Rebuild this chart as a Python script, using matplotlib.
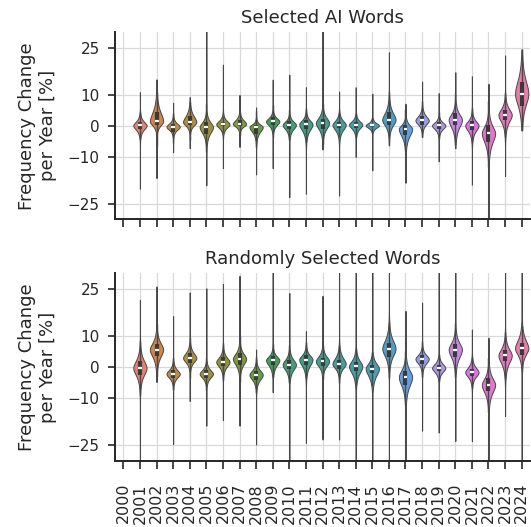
import numpy as np
import matplotlib
matplotlib.use("Agg")
import matplotlib.pyplot as plt
import seaborn as sns

years = [str(y) for y in range(2000, 2025)]
yticks = [-25, -10, 0, 10, 25]

# ---- Selected AI Words (year 2000 has no data) ----
ai_med  = [None, 0.1, 1.4, -0.3, 1.2, -0.4, 0.5, 0.6, -0.4, 1.4, 0.3, 0.5, 0.9, 0.3, 0.4, 0.1, 1.9, -1.0, 1.7, 0.1, 1.9, 0.1, -2.4, 3.5, 10.3]
ai_q1   = [None, -1.0, 0.1, -1.9, 0.1, -2.6, -0.2, -0.1, -2.6, 0.3, -1.0, -1.0, -1.0, -0.7, -0.7, -0.5, 0.1, -3.1, 0.3, -1.0, 0.1, -1.2, -5.2, 1.7, 6.5]
ai_q3   = [None, 1.2, 4.4, 0.5, 3.3, 1.2, 1.2, 1.7, 0.3, 2.8, 1.4, 1.7, 2.2, 1.2, 1.2, 0.7, 4.4, 0.3, 3.3, 1.2, 4.2, 1.5, 0.1, 5.2, 14.0]
ai_btop = [None, 3.5, 9.5, 2.5, 6.5, 3.9, 3.5, 3.9, 1.9, 4.4, 3.3, 3.9, 5.5, 3.9, 3.3, 2.2, 8.1, 2.5, 5.5, 2.8, 7.1, 3.9, 3.9, 8.7, 22.0]
ai_bbot = [None, -3.6, -2.2, -3.1, -2.0, -5.8, -2.6, -1.8, -4.7, -2.0, -3.6, -4.7, -4.2, -4.2, -3.1, -2.0, -3.1, -7.4, -1.8, -3.1, -4.7, -4.7, -10.6, -2.6, 0.1]
ai_lo   = [None, -20.2, -16.8, -8.5, -7.2, -19.1, -13.6, -6.8, -15.6, -13.6, -22.9, -21.8, -7.6, -22.4, -10.0, -14.3, -6.3, -18.3, -3.6, -11.4, -7.2, -18.9, -32.0, -16.1, -1.5]
ai_hi   = [None, 10.8, 14.9, 7.4, 9.2, 32.0, 19.6, 9.9, 5.9, 14.8, 16.4, 12.4, 32.0, 11.0, 12.4, 10.3, 23.6, 7.1, 14.2, 10.5, 17.2, 15.9, 13.5, 22.6, 24.5]

# ---- Randomly Selected Words ----
rn_med  = [None, -0.3, 5.6, -2.2, 2.9, -2.2, 1.6, 2.6, -2.5, 2.2, 0.8, 2.4, 1.8, 1.0, 0.2, -0.5, 5.9, -3.2, 2.6, -0.3, 5.6, -1.7, -5.7, 3.7, 6.0]
rn_q1   = [None, -2.5, 3.4, -3.5, 1.3, -3.5, 0.2, 0.8, -4.1, 0.8, -0.6, 0.8, 0.2, -0.6, -1.4, -1.9, 3.2, -5.7, 1.1, -1.4, 3.2, -3.0, -7.8, 1.8, 4.0]
rn_q3   = [None, 1.8, 7.5, -0.9, 4.5, -0.9, 3.2, 4.5, -1.2, 3.4, 2.4, 3.7, 2.9, 2.4, 1.5, 0.8, 7.7, -1.4, 4.0, 0.8, 7.5, -0.6, -3.5, 5.6, 7.7]
rn_btop = [None, 6.1, 11.5, 1.3, 7.2, 1.3, 5.6, 7.2, 1.3, 5.6, 5.1, 6.1, 6.1, 6.1, 5.1, 4.0, 13.1, 2.9, 6.1, 3.2, 11.5, 2.4, 0.2, 9.4, 13.1]
rn_bbot = [None, -6.8, -0.9, -5.7, -0.9, -5.7, -2.5, -2.5, -6.8, -2.5, -4.1, -3.0, -2.5, -3.0, -5.7, -6.8, -0.9, -11.1, -1.4, -3.9, -1.4, -5.7, -12.7, -3.0, 0.2]
rn_lo   = [None, -32.0, -4.8, -24.7, -10.9, -18.8, -17.0, -18.8, -24.8, -8.1, -32.0, -24.3, -23.2, -23.2, -32.0, -32.0, -32.0, -32.0, -20.4, -21.0, -23.7, -23.7, -32.0, -15.7, -32.0]
rn_hi   = [None, 21.5, 25.8, 16.3, 23.9, 25.2, 26.6, 29.2, 5.6, 32.0, 23.7, 11.5, 22.8, 32.0, 32.0, 32.0, 32.0, 18.0, 20.6, 32.0, 32.0, 12.0, 9.4, 32.0, 32.0]

titles = ["Selected AI Words", "Randomly Selected Words"]
ylabel = "Frequency Change\nper Year [%]"

palette = [sns.desaturate(c, 0.75) for c in sns.color_palette("husl", len(years))]
EDGE = "#474747"
GRID = "#d9d9d9"
SPINE = "#262626"


def draw_violin(ax, pos, color, med, q1, q3, btop, bbot, lo, hi):
    b_up = max((btop - med) / 3.0, 0.3)
    b_dn = max((med - bbot) / 3.0, 0.3)
    y = np.linspace(lo, hi, 1500)
    z = np.where(y >= med, (y - med) / b_up, (med - y) / b_dn)
    g = 1.0 / np.cosh(z)
    w = 0.4 * np.maximum(g, 0.006)
    ax.fill_betweenx(y, pos - w, pos + w, facecolor=color, edgecolor=EDGE,
                     linewidth=0.7, zorder=2)
    iqr = q3 - q1
    wlo = max(lo, q1 - 1.5 * iqr)
    whi = min(hi, q3 + 1.5 * iqr)
    ax.plot([pos, pos], [wlo, whi], color=EDGE, lw=1.0, zorder=3,
            solid_capstyle="butt")
    ax.plot([pos, pos], [q1, q3], color="#3a3a3a", lw=3.0, zorder=3,
            solid_capstyle="butt")
    ax.plot([pos - 0.12, pos + 0.12], [med, med], color="white", lw=1.6,
            zorder=4, solid_capstyle="butt")


fig = plt.figure(figsize=(5.31, 5.27), dpi=100)
rects = [[0.2166, 0.5839, 0.7815, 0.3548], [0.2166, 0.1258, 0.7815, 0.3556]]
panels = [
    (ai_med, ai_q1, ai_q3, ai_btop, ai_bbot, ai_lo, ai_hi),
    (rn_med, rn_q1, rn_q3, rn_btop, rn_bbot, rn_lo, rn_hi),
]

for k, (rect, data) in enumerate(zip(rects, panels)):
    ax = fig.add_axes(rect)
    ax.set_axisbelow(True)
    x = np.arange(len(years))
    for i in range(len(years)):
        vals = [d[i] for d in data]
        if vals[0] is None:
            continue
        draw_violin(ax, x[i], palette[i], *vals)
    ax.set_xlim(-0.5, len(years) - 0.5)
    ax.set_ylim(-30, 30)
    ax.set_yticks(yticks)
    ax.set_yticklabels([str(t).replace("-", "\u2212") for t in yticks], fontsize=11)
    ax.set_xticks(x)
    if k == 1:
        ax.set_xticklabels(years, rotation=90, fontsize=11.5)
    else:
        ax.set_xticklabels([])
    ax.grid(True, color=GRID, lw=0.9)
    for s in ["top", "right"]:
        ax.spines[s].set_visible(False)
    for s in ["left", "bottom"]:
        ax.spines[s].set_color(SPINE)
        ax.spines[s].set_linewidth(1.4)
    ax.tick_params(axis="x", length=6, width=1.2, color=SPINE, pad=10, labelcolor="#262626")
    ax.tick_params(axis="y", length=5, width=1.2, color=SPINE, pad=6, labelcolor="#262626")
    ax.set_title(titles[k], fontsize=13, color="#262626", pad=7)
    ax.set_ylabel(ylabel, fontsize=13, color="#262626", labelpad=8)

fig.savefig("out.png", dpi=100)
